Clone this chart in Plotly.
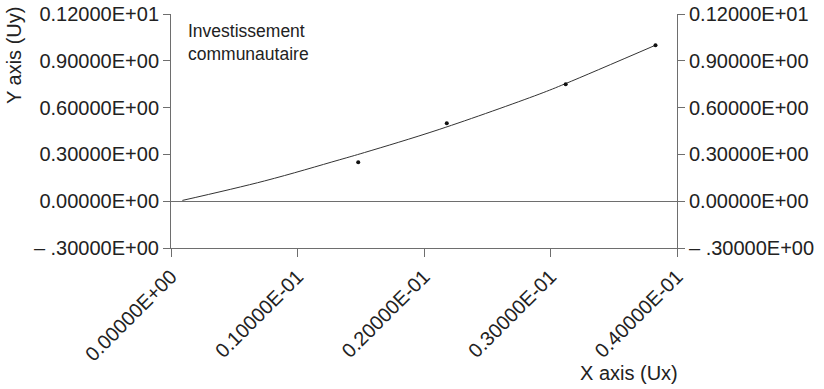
import plotly.graph_objects as go

# Observed data points
obs_x = [0.0148, 0.0218, 0.0312, 0.0383]
obs_y = [0.25, 0.50, 0.75, 1.00]

# Fitted curve
fit_x = [0.0009, 0.0074, 0.0133, 0.0153, 0.0212, 0.0291, 0.0312, 0.0383]
fit_y = [0.005, 0.130, 0.265, 0.312, 0.460, 0.686, 0.754, 1.000]

# Axis ticks and their labels
y_ticks = [1.2, 0.9, 0.6, 0.3, 0.0, -0.3]
y_labels = ["0.12000E+01", "0.90000E+00", "0.60000E+00", "0.30000E+00",
            "0.00000E+00", "\u2013 .30000E+00"]
x_ticks = [0.0, 0.01, 0.02, 0.03, 0.04]
x_labels = ["0.00000E+00", "0.10000E-01", "0.20000E-01", "0.30000E-01", "0.40000E-01"]

FONT = "Liberation Sans, Arial, sans-serif"
TXT = "#222222"
AX = "#6e6e6e"

W, H = 824, 389
ML, MR, MT, MB = 171, 147, 14, 141

fig = go.Figure()
fig.add_trace(go.Scatter(x=fit_x, y=fit_y, mode="lines", line=dict(color="#333333", width=1, shape="spline"),
                         showlegend=False, hoverinfo="skip"))
fig.add_trace(go.Scatter(x=obs_x, y=obs_y, mode="markers", marker=dict(color="#111111", size=4),
                         showlegend=False))
# invisible trace so the right-hand axis is drawn
fig.add_trace(go.Scatter(x=obs_x, y=obs_y, yaxis="y2", mode="markers", marker=dict(opacity=0),
                         showlegend=False, hoverinfo="skip"))

common_y = dict(range=[-0.3, 1.2], tickmode="array", tickvals=y_ticks, ticktext=y_labels,
                showgrid=False, showline=True, linecolor=AX, linewidth=1, automargin=False,
                ticks="outside", ticklen=7, tickcolor=AX, tickwidth=1,
                tickfont=dict(family=FONT, size=20, color=TXT))

# pixel position -> paper coordinates
def px(x):
    return (x - ML) / (W - ML - MR)

def py(y):
    return (H - y - MB) / (H - MT - MB)

fig.update_layout(
    width=W, height=H,
    margin=dict(l=ML, r=MR, t=MT, b=MB, autoexpand=False),
    paper_bgcolor="white", plot_bgcolor="white",
    xaxis=dict(range=[0, 0.04], tickmode="array", tickvals=x_ticks, ticktext=x_labels,
               tickangle=-45, showgrid=False, zeroline=False, showline=True, automargin=False,
               linecolor=AX, linewidth=1, ticks="outside", ticklen=8, tickcolor=AX,
               tickfont=dict(family=FONT, size=20, color=TXT)),
    yaxis=dict(**common_y, zeroline=True, zerolinecolor=AX, zerolinewidth=1),
    yaxis2=dict(**common_y, overlaying="y", side="right", anchor="x", zeroline=False),
    annotations=[
        dict(text="Investissement<br>communautaire", x=px(186), y=py(19), xref="paper", yref="paper",
             showarrow=False, xanchor="left", yanchor="top", align="left",
             font=dict(family=FONT, size=17.5, color=TXT)),
        dict(text="X axis (Ux)", x=px(629), y=py(373), xref="paper", yref="paper",
             showarrow=False, xanchor="center", yanchor="middle",
             font=dict(family=FONT, size=20, color=TXT)),
        dict(text="Y axis (Uy)", x=px(14), y=py(56), xref="paper", yref="paper", textangle=-90,
             showarrow=False, xanchor="center", yanchor="middle",
             font=dict(family=FONT, size=20, color=TXT)),
    ],
)

fig.write_html("out.html")
